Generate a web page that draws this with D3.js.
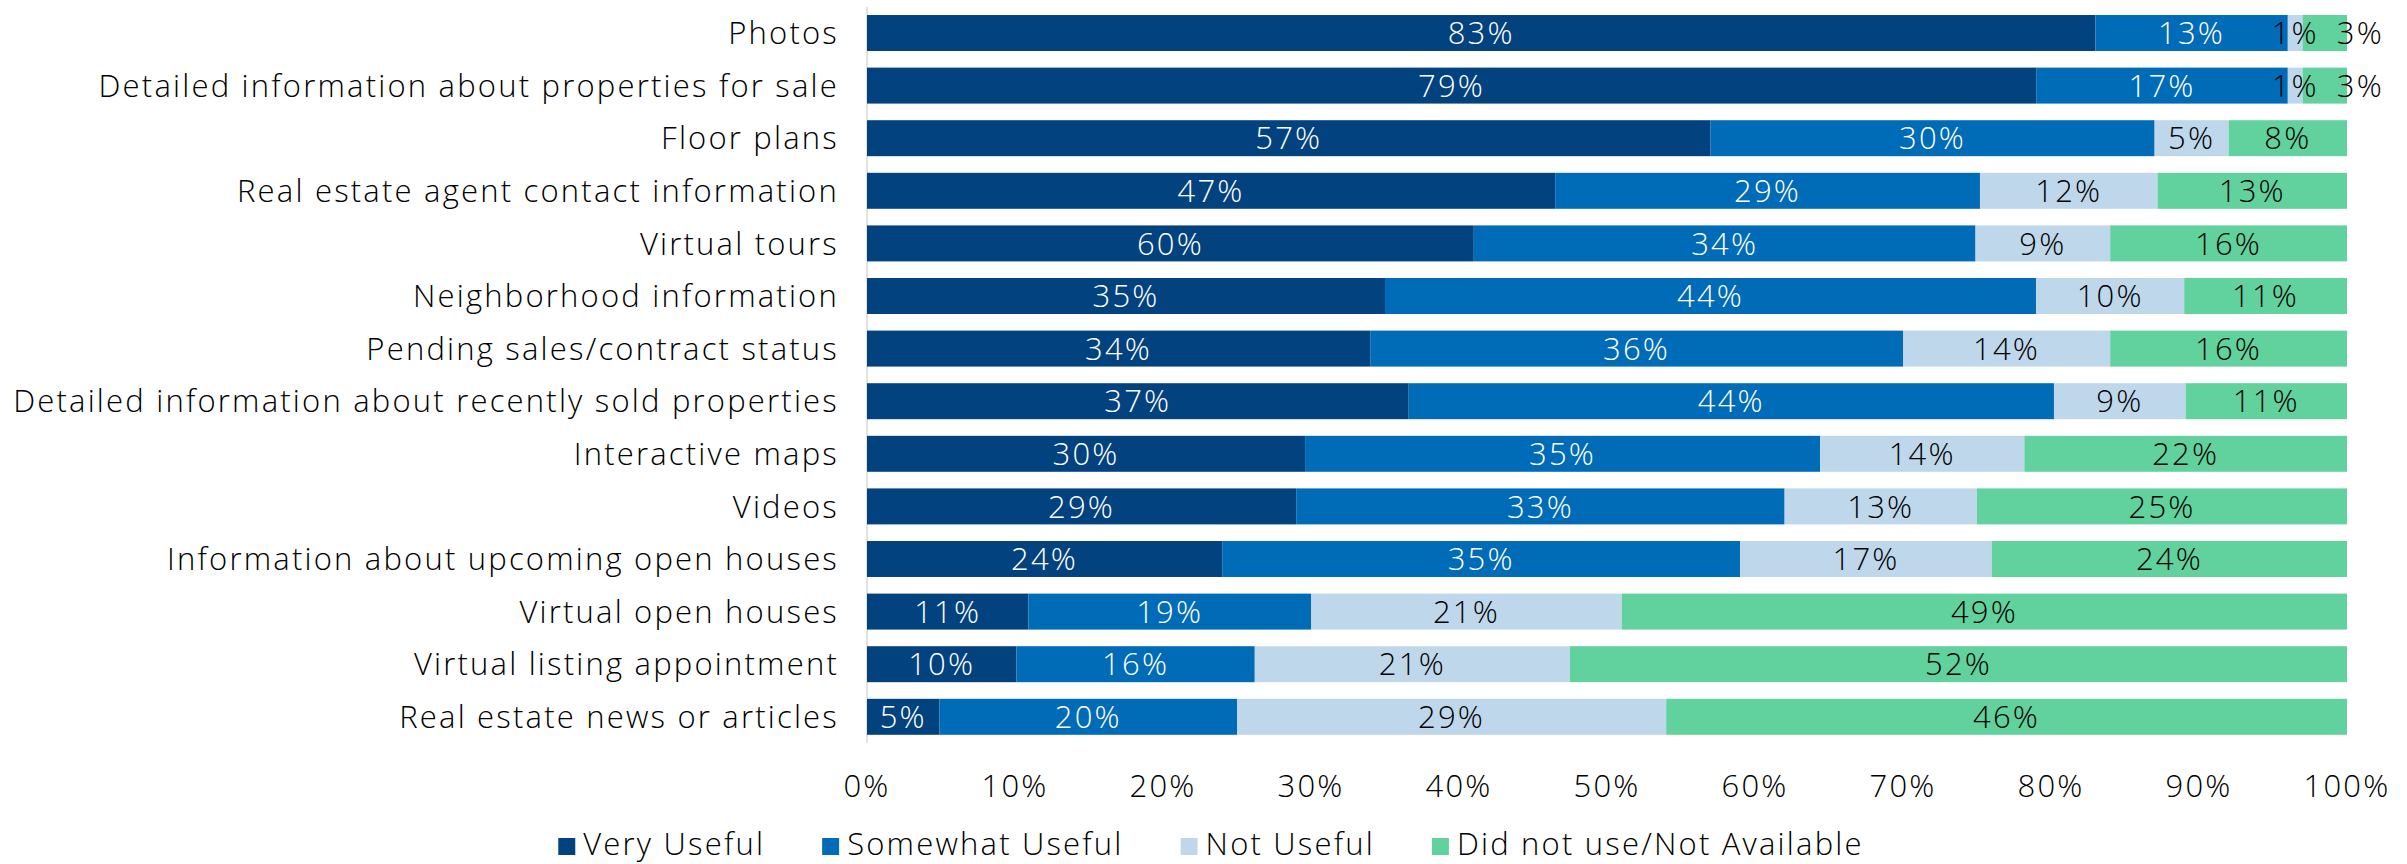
<!DOCTYPE html>
<html>
<head>
<meta charset="utf-8">
<script src="https://cdn.jsdelivr.net/npm/d3@7"></script>
<style>
  body { margin: 0; background: #fff; }
  text { font-family: "Open Sans", "Noto Sans", sans-serif; font-weight: 300; letter-spacing: 2.2px; }
</style>
</head>
<body>
<script>
// Categories, top to bottom
const categories = [
    "Photos",
    "Detailed information about properties for sale",
    "Floor plans",
    "Real estate agent contact information",
    "Virtual tours",
    "Neighborhood information",
    "Pending sales/contract status",
    "Detailed information about recently sold properties",
    "Interactive maps",
    "Videos",
    "Information about upcoming open houses",
    "Virtual open houses",
    "Virtual listing appointment",
    "Real estate news or articles"
];

// Segment widths as drawn (percent)
const veryUseful     = [83, 79, 57, 46.5, 41, 35, 34, 36.6, 29.6, 29, 24, 10.9, 10.1, 4.9];
const somewhatUseful = [13, 17, 30, 28.7, 33.9, 44, 36, 43.6, 34.8, 33, 35, 19.1, 16.1, 20.1];
const notUseful      = [1, 1, 5, 12, 9.1, 10, 14, 8.9, 13.8, 13, 17, 21, 21.3, 29];
const didNotUse      = [3, 3, 8, 12.8, 16, 11, 16, 10.9, 21.8, 25, 24, 49, 52.5, 46];

// Printed data labels (as shown on the chart)
const veryLabels     = [83, 79, 57, 47, 60, 35, 34, 37, 30, 29, 24, 11, 10, 5];
const somewhatLabels = [13, 17, 30, 29, 34, 44, 36, 44, 35, 33, 35, 19, 16, 20];
const notLabels      = [1, 1, 5, 12, 9, 10, 14, 9, 14, 13, 17, 21, 21, 29];
const didNotLabels   = [3, 3, 8, 13, 16, 11, 16, 11, 22, 25, 24, 49, 52, 46];

const seriesNames = ["Very Useful", "Somewhat Useful", "Not Useful", "Did not use/Not Available"];
const xTicks = [0, 10, 20, 30, 40, 50, 60, 70, 80, 90, 100];

const colors = ["#02427f", "#006bb6", "#bfd7ea", "#61d29d"];
const textColors = ["#fff", "#fff", "#000", "#000"];

var width = 2407, height = 864;
var fontSize = 31;

// build table for the stack
const table = categories.map((c, i) => ({
    cat: c,
    "Very Useful": veryUseful[i],
    "Somewhat Useful": somewhatUseful[i],
    "Not Useful": notUseful[i],
    "Did not use/Not Available": didNotUse[i]
}));
const labelLists = [veryLabels, somewhatLabels, notLabels, didNotLabels];

var svg = d3.select("body").append("svg")
    .attr("width", width)
    .attr("height", height);

var x = d3.scaleLinear().domain([0, 100]).range([867, 2347]);
var y = d3.scaleBand()
    .domain(categories)
    .range([6.7, 743.1])
    .paddingInner(0.316)
    .paddingOuter(0.158);

var stack = d3.stack().keys(seriesNames);
var layers = stack(table);

// y axis line
svg.append("line")
    .attr("x1", x(0)).attr("x2", x(0))
    .attr("y1", y.range()[0]).attr("y2", y.range()[1])
    .attr("stroke", "#d9d9d9")
    .attr("stroke-width", 1.5);

// bars
var layer = svg.selectAll("g.layer")
    .data(layers)
    .enter().append("g")
    .attr("class", "layer")
    .attr("fill", (d, i) => colors[i]);

layer.selectAll("rect")
    .data(d => d)
    .enter().append("rect")
    .attr("x", d => x(d[0]))
    .attr("y", d => y(d.data.cat))
    .attr("width", d => x(d[1]) - x(d[0]))
    .attr("height", y.bandwidth());

// data labels
var labelG = svg.append("g");
categories.forEach(function (cat, i) {
    var prevRight = -Infinity;
    layers.forEach(function (l, k) {
        var seg = l[i];
        var cx = (x(seg[0]) + x(seg[1])) / 2;
        var t = labelG.append("text")
            .attr("y", y(cat) + y.bandwidth() / 2)
            .attr("dy", "0.36em")
            .attr("text-anchor", "middle")
            .style("font-size", fontSize + "px")
            .attr("fill", textColors[k])
            .text(labelLists[k][i] + "%");
        var w = t.node().getComputedTextLength();
        // push overlapping labels to the right (tiny segments)
        if (cx - w / 2 < prevRight + 18) cx = prevRight + 18 + w / 2;
        if (x(seg[1]) - x(seg[0]) < w && k > 1) t.attr("fill", "#000");
        t.attr("x", cx);
        prevRight = cx + w / 2;
    });
});

// category labels
svg.append("g").selectAll("text")
    .data(categories)
    .enter().append("text")
    .attr("x", 839)
    .attr("y", d => y(d) + y.bandwidth() / 2)
    .attr("dy", "0.36em")
    .attr("text-anchor", "end")
    .style("font-size", fontSize + "px")
    .attr("fill", "#000")
    .text(d => d);

// x tick labels
svg.append("g").selectAll("text")
    .data(xTicks)
    .enter().append("text")
    .attr("x", d => x(d))
    .attr("y", 786)
    .attr("dy", "0.36em")
    .attr("text-anchor", "middle")
    .style("font-size", fontSize + "px")
    .attr("fill", "#000")
    .text(d => d + "%");

// legend
var legend = svg.append("g");
var items = legend.selectAll("g")
    .data(seriesNames)
    .enter().append("g");
items.append("rect")
    .attr("width", 17).attr("height", 17)
    .attr("y", 838)
    .attr("fill", (d, i) => colors[i]);
items.append("text")
    .attr("x", 25)
    .attr("y", 855)
    .style("font-size", fontSize + "px")
    .attr("fill", "#000")
    .text(d => d);

var offs = [], cur = 0;
items.each(function () {
    var w = d3.select(this).select("text").node().getComputedTextLength();
    offs.push(cur);
    cur += 25 + w + 57;
});
var total = cur - 57;
var startX = 1211 - total / 2;
items.attr("transform", (d, i) => "translate(" + (startX + offs[i]) + ",0)");
</script>
</body>
</html>
